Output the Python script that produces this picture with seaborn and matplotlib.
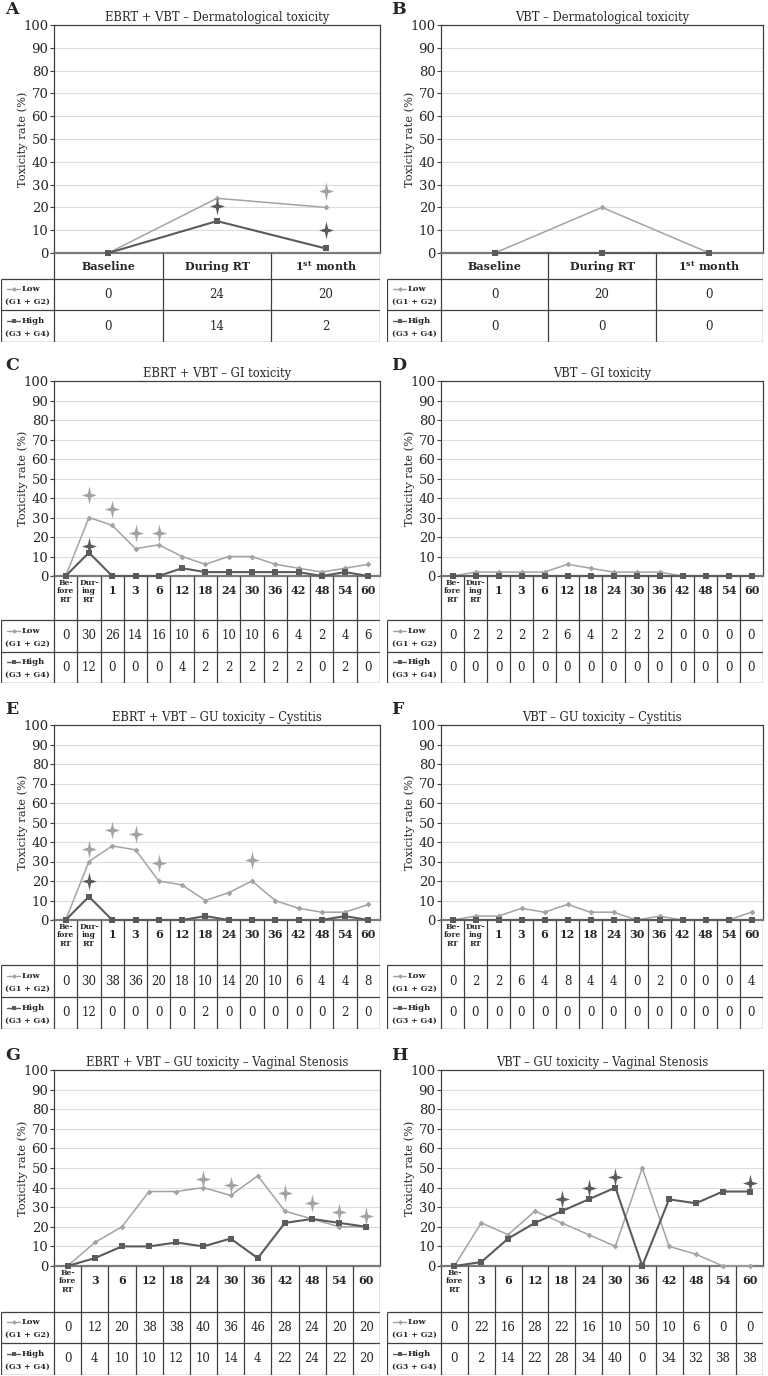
import numpy as np
import pandas as pd
import seaborn as sns
import matplotlib.pyplot as plt
from matplotlib.lines import Line2D
from matplotlib.path import Path

# Categories (table header / x axis)
derm_cats = ["Baseline", "During RT", r"1$^{\mathbf{st}}$ month"]
long_cats = ["Be-\nfore\nRT", "Dur-\ning\nRT", "1", "3", "6", "12", "18", "24",
             "30", "36", "42", "48", "54", "60"]
vs_cats = ["Be-\nfore\nRT", "3", "6", "12", "18", "24", "30", "36", "42", "48", "54", "60"]

# A - EBRT + VBT dermatological
a_low = [0, 24, 20]
a_high = [0, 14, 2]
a_star_low = ([2], [27])
a_star_high = ([1, 2], [20.5, 10])

# B - VBT dermatological
b_low = [0, 20, 0]
b_high = [0, 0, 0]

# C - EBRT + VBT GI
c_low = [0, 30, 26, 14, 16, 10, 6, 10, 10, 6, 4, 2, 4, 6]
c_high = [0, 12, 0, 0, 0, 4, 2, 2, 2, 2, 2, 0, 2, 0]
c_star_low = ([1, 2, 3, 4], [41.5, 34.5, 22, 22])
c_star_high = ([1], [15.5])

# D - VBT GI
d_low = [0, 2, 2, 2, 2, 6, 4, 2, 2, 2, 0, 0, 0, 0]
d_high = [0, 0, 0, 0, 0, 0, 0, 0, 0, 0, 0, 0, 0, 0]

# E - EBRT + VBT cystitis
e_low = [0, 30, 38, 36, 20, 18, 10, 14, 20, 10, 6, 4, 4, 8]
e_high = [0, 12, 0, 0, 0, 0, 2, 0, 0, 0, 0, 0, 2, 0]
e_star_low = ([1, 2, 3, 4, 8], [36.5, 46, 44, 29, 31])
e_star_high = ([1], [20])

# F - VBT cystitis
f_low = [0, 2, 2, 6, 4, 8, 4, 4, 0, 2, 0, 0, 0, 4]
f_high = [0, 0, 0, 0, 0, 0, 0, 0, 0, 0, 0, 0, 0, 0]

# G - EBRT + VBT vaginal stenosis
g_low = [0, 12, 20, 38, 38, 40, 36, 46, 28, 24, 20, 20]
g_high = [0, 4, 10, 10, 12, 10, 14, 4, 22, 24, 22, 20]
g_star_low = ([5, 6, 8, 9, 10, 11], [44.5, 41.5, 37, 32, 27.5, 25.5])

# H - VBT vaginal stenosis
h_low = [0, 22, 16, 28, 22, 16, 10, 50, 10, 6, 0, 0]
h_high = [0, 2, 14, 22, 28, 34, 40, 0, 34, 32, 38, 38]
h_star_high = ([4, 5, 6, 11], [34, 40, 45.5, 42.5])

sns.set_style("white")
plt.rcParams['font.family'] = ['DejaVu Serif']
plt.rcParams['mathtext.fontset'] = 'custom'
plt.rcParams['mathtext.rm'] = 'DejaVu Serif'
plt.rcParams['mathtext.bf'] = 'DejaVu Serif:bold'

LIGHT = "#a3a3a3"
DARK = "#5b5b5b"
EDGE = "#404040"
W, H = 768, 1376

# four-pointed star used to flag significant differences (taller than wide)
ang = np.arange(8) * np.pi / 4
rad = np.where(np.arange(8) % 2 == 0, 1.0, 0.3)
star_verts = np.column_stack([rad * np.sin(ang) * 0.82, rad * np.cos(ang)])
STAR = Path(np.vstack([star_verts, star_verts[:1]]), closed=True)

# pixel layout: (plot top, zero line, header bottom, low bottom, high bottom)
rows = [(25, 253, 279, 310, 342), (381, 576, 620, 652, 683),
        (725, 920, 965, 997, 1029), (1070, 1266, 1312, 1343, 1375)]
# (table left, plot left, plot right)
cols = [(1, 54, 380), (387, 441, 763)]

fig = plt.figure(figsize=(W / 100, H / 100), dpi=100)


def draw_panel(r, c, letter, title, cats, low, high, star_low=None, star_high=None):
    tl, pl, pr = cols[c]
    top, zero, hb, lb, bb = rows[r]
    n = len(cats)
    ax = fig.add_axes([pl / W, 1 - zero / H, (pr - pl) / W, (zero - top) / H])
    df = pd.DataFrame({"x": np.arange(n), "low": low, "high": high})
    sns.lineplot(data=df, x="x", y="low", ax=ax, color=LIGHT, lw=1.1, marker="D",
                 markersize=3, markeredgewidth=0, clip_on=False, zorder=3)
    sns.lineplot(data=df, x="x", y="high", ax=ax, color=DARK, lw=1.5, marker="s",
                 markersize=4, markeredgewidth=0, clip_on=False, zorder=4)
    if star_low is not None:
        ax.scatter(star_low[0], star_low[1], marker=STAR, s=170, color=LIGHT,
                   linewidths=0, clip_on=False, zorder=5)
    if star_high is not None:
        ax.scatter(star_high[0], star_high[1], marker=STAR, s=170, color=DARK,
                   linewidths=0, clip_on=False, zorder=5)
    ax.set_xlim(-0.5, n - 0.5)
    ax.set_ylim(0, 100)
    ax.set_yticks(range(0, 101, 10))
    ax.set_xticks([])
    ax.set_xlabel("")
    ax.set_ylabel("Toxicity rate (%)", fontsize=8.2)
    ax.yaxis.set_label_coords(-26 / (pr - pl), 0.5)
    ax.tick_params(axis="y", labelsize=9.5, length=3, width=0.8, color=EDGE, pad=1,
                   left=True)
    ax.yaxis.grid(True, color="#dcdcdc", lw=0.8)
    for s in ["top", "right", "left"]:
        ax.spines[s].set_color(EDGE)
        ax.spines[s].set_linewidth(0.9)
    ax.spines["bottom"].set_color("#7a7a7a")
    ax.spines["bottom"].set_linewidth(1.6)
    ax.set_title(title, fontsize=8.3, pad=3)
    fig.text((tl + 4) / W, 1 - (top - 15) / H, letter, fontsize=12.5, fontweight="bold",
             va="center", ha="left")

    # table under the chart
    tax = fig.add_axes([tl / W, 1 - bb / H, (pr - tl) / W, (bb - zero) / H])
    tax.axis("off")
    unit = (pr - pl) / n
    xl = -0.5 - (pl - tl) / unit
    tot = bb - zero
    h0, h1 = hb - zero, lb - zero
    tax.set_xlim(xl, n - 0.5)
    tax.set_ylim(tot, 0)
    kw = dict(color=EDGE, lw=0.9, solid_capstyle="butt")
    for k in range(n + 1):
        tax.plot([k - 0.5, k - 0.5], [0, tot], **kw)
    tax.plot([xl, xl], [h0, tot], **kw)
    for yy in [h0, h1, tot]:
        tax.plot([xl, n - 0.5], [yy, yy], **kw)
    for i, lab in enumerate(cats):
        if "\n" in lab:
            tax.text(i, 3, lab, ha="center", va="top", fontweight="bold", fontsize=5.5,
                     linespacing=1.05)
        else:
            tax.text(i, min(h0 / 2, 14), lab, ha="center", va="center", fontweight="bold",
                     fontsize=8)
        tax.text(i, (h0 + h1) / 2, str(low[i]), ha="center", va="center", fontsize=8.5)
        tax.text(i, (h1 + tot) / 2, str(high[i]), ha="center", va="center", fontsize=8.5)
    # legend keys inside the label column
    for (ya, yb), name, grp, col, mk, ms in [((h0, h1), "Low", "(G1 + G2)", LIGHT, "D", 2.5),
                                              ((h1, tot), "High", "(G3 + G4)", DARK, "s", 3)]:
        yk = ya + (yb - ya) * 0.33
        tax.add_line(Line2D([xl + 6 / unit, xl + 19 / unit], [yk, yk], color=col, lw=1))
        tax.plot([xl + 12.5 / unit], [yk], marker=mk, color=col, markersize=ms,
                 markeredgewidth=0)
        tax.text(xl + 21 / unit, yk, name, fontsize=6, fontweight="bold", va="center",
                 ha="left")
        tax.text(xl + (pl - tl) / 2 / unit, ya + (yb - ya) * 0.74, grp, fontsize=5.8,
                 fontweight="bold", va="center", ha="center")


draw_panel(0, 0, "A", "EBRT + VBT – Dermatological toxicity", derm_cats, a_low, a_high,
           a_star_low, a_star_high)
draw_panel(0, 1, "B", "VBT – Dermatological toxicity", derm_cats, b_low, b_high)
draw_panel(1, 0, "C", "EBRT + VBT – GI toxicity", long_cats, c_low, c_high,
           c_star_low, c_star_high)
draw_panel(1, 1, "D", "VBT – GI toxicity", long_cats, d_low, d_high)
draw_panel(2, 0, "E", "EBRT + VBT – GU toxicity – Cystitis", long_cats, e_low, e_high,
           e_star_low, e_star_high)
draw_panel(2, 1, "F", "VBT – GU toxicity – Cystitis", long_cats, f_low, f_high)
draw_panel(3, 0, "G", "EBRT + VBT – GU toxicity – Vaginal Stenosis", vs_cats, g_low, g_high,
           g_star_low, None)
draw_panel(3, 1, "H", "VBT – GU toxicity – Vaginal Stenosis", vs_cats, h_low, h_high,
           None, h_star_high)

fig.savefig("out.png", dpi=100, facecolor="white")
